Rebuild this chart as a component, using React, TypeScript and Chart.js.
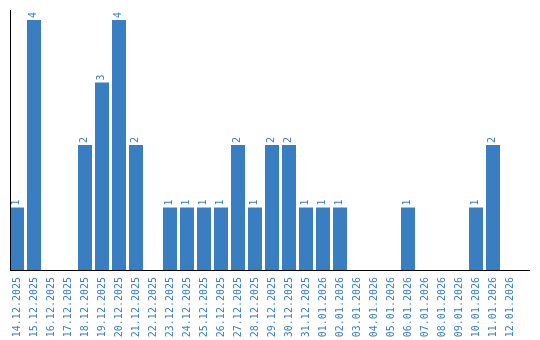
import React, { useEffect, useRef } from "react";
import { Chart, registerables } from "chart.js";

Chart.register(...registerables);

const dates: string[] = [
  "14.12.2025", "15.12.2025", "16.12.2025", "17.12.2025", "18.12.2025",
  "19.12.2025", "20.12.2025", "21.12.2025", "22.12.2025", "23.12.2025",
  "24.12.2025", "25.12.2025", "26.12.2025", "27.12.2025", "28.12.2025",
  "29.12.2025", "30.12.2025", "31.12.2025", "01.01.2026", "02.01.2026",
  "03.01.2026", "04.01.2026", "05.01.2026", "06.01.2026", "07.01.2026",
  "08.01.2026", "09.01.2026", "10.01.2026", "11.01.2026", "12.01.2026",
];

const counts: number[] = [
  1, 4, 0, 0, 2, 3, 4, 2, 0, 1,
  1, 1, 1, 2, 1, 2, 2, 1, 1, 1,
  0, 0, 0, 1, 0, 0, 0, 1, 2, 0,
];

const BLUE = "#3a7ec2";
const MONO = "'DejaVu Sans Mono', 'Liberation Mono', monospace";

const axesPlugin = {
  id: "customAxes",
  afterDraw(chart: any) {
    const { ctx, chartArea } = chart;
    ctx.save();
    ctx.strokeStyle = "#000";
    ctx.lineWidth = 1;
    ctx.beginPath();
    ctx.moveTo(10.5, chartArea.top);
    ctx.lineTo(10.5, chartArea.bottom);
    ctx.moveTo(10, chartArea.bottom + 0.5);
    ctx.lineTo(530, chartArea.bottom + 0.5);
    ctx.stroke();
    ctx.restore();
  },
};

const labelPlugin = {
  id: "valueLabels",
  afterDatasetsDraw(chart: any) {
    const { ctx } = chart;
    const meta = chart.getDatasetMeta(0);
    const data = chart.data.datasets[0].data as number[];
    ctx.save();
    ctx.fillStyle = BLUE;
    ctx.font = `10px ${MONO}`;
    ctx.textAlign = "left";
    ctx.textBaseline = "middle";
    meta.data.forEach((bar: any, i: number) => {
      const v = data[i];
      if (!v) return;
      ctx.save();
      ctx.translate(bar.x - 0.5, bar.y - 2);
      ctx.rotate(-Math.PI / 2);
      ctx.fillText(String(v), 0, 0);
      ctx.restore();
    });
    ctx.restore();
  },
};

export default function App() {
  const ref = useRef<HTMLCanvasElement | null>(null);

  useEffect(() => {
    document.body.style.margin = "0";
    if (!ref.current) return;
    const chart = new Chart(ref.current, {
      type: "bar",
      data: {
        labels: dates,
        datasets: [
          {
            data: counts,
            backgroundColor: BLUE,
            borderWidth: 0,
            categoryPercentage: 1,
            barPercentage: 14 / 17,
          },
        ],
      },
      options: {
        animation: false,
        responsive: false,
        maintainAspectRatio: false,
        layout: { padding: { left: 8.5, right: 21.5, top: 10, bottom: 0 } },
        plugins: { legend: { display: false }, tooltip: { enabled: false } },
        scales: {
          x: {
            offset: true,
            grid: { display: false, drawTicks: false },
            border: { display: false },
            ticks: {
              autoSkip: false,
              minRotation: 90,
              maxRotation: 90,
              padding: 7,
              color: BLUE,
              font: { family: MONO, size: 10 },
            },
            afterFit(scale: any) {
              scale.height = 70;
            },
          },
          y: {
            display: false,
            min: 0,
            max: 4.16,
          },
        },
      },
      plugins: [axesPlugin, labelPlugin],
    });
    return () => chart.destroy();
  }, []);

  return (
    <div style={{ width: 540, height: 340 }}>
      <canvas ref={ref} width={540} height={340} />
    </div>
  );
}
